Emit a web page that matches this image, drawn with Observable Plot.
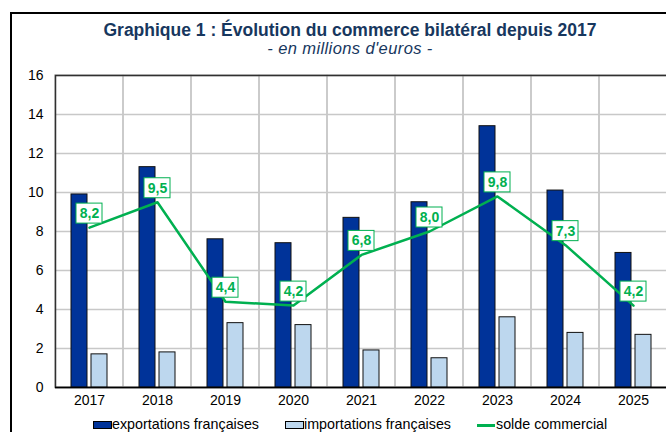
<!DOCTYPE html>
<html>
<head>
<meta charset="utf-8">
<script src="https://cdn.jsdelivr.net/npm/d3@7"></script>
<script src="https://cdn.jsdelivr.net/npm/@observablehq/plot@0.6"></script>
<style>
  html, body { margin: 0; padding: 0; background: #fff; }
  #wrap { position: relative; width: 666px; height: 432px; overflow: hidden; font-family: "Liberation Sans", Arial, sans-serif; }
  #border { position: absolute; left: 10px; top: 12px; width: 700px; height: 500px; border-left: 2px solid #000; border-top: 2px solid #000; box-sizing: border-box; }
  #title { position: absolute; left: 0; width: 700px; top: 22px; line-height: 1; text-align: center; font-weight: bold; font-size: 17.5px; color: #17375E; }
  #subtitle { position: absolute; left: 0; width: 700px; top: 40px; line-height: 1; text-align: center; font-style: italic; font-size: 16.5px; letter-spacing: 0.4px; color: #17375E; }
  #chart { position: absolute; left: 0; top: 60px; width: 680px; }
  #chart svg { max-width: none !important; }
  .leg { position: absolute; top: 416px; font-size: 14.3px; color: #000; white-space: nowrap; }
  .sw { position: absolute; top: 421px; width: 17px; height: 6px; border: 1px solid #000; }
  .ln { position: absolute; top: 424px; width: 18px; height: 2.5px; background: #00B050; }
</style>
</head>
<body>
<div id="wrap">
  <div id="border"></div>
  <div id="title">Graphique 1 : Évolution du commerce bilatéral depuis 2017</div>
  <div id="subtitle">- en millions d'euros -</div>
  <div id="chart"></div>
  <div class="sw" style="left:93px;background:#003399"></div>
  <div class="leg" style="left:112px">exportations françaises</div>
  <div class="sw" style="left:285px;background:#BDD7EE"></div>
  <div class="leg" style="left:304px">importations françaises</div>
  <div class="ln" style="left:477px"></div>
  <div class="leg" style="left:496px">solde commercial</div>
</div>
<script>
const years = ["2017", "2018", "2019", "2020", "2021", "2022", "2023", "2024", "2025"];
const exportations = [9.9, 11.3, 7.6, 7.4, 8.7, 9.5, 13.4, 10.1, 6.9];
const importations = [1.7, 1.8, 3.3, 3.2, 1.9, 1.5, 3.6, 2.8, 2.7];
const solde = [8.2, 9.5, 4.4, 4.2, 6.8, 8.0, 9.8, 7.3, 4.2];
const yTicks = [0, 2, 4, 6, 8, 10, 12, 14, 16];

const expData = years.map((y, i) => ({year: y, value: exportations[i]}));
const impData = years.map((y, i) => ({year: y, value: importations[i]}));
const solData = years.map((y, i) => ({year: y, value: solde[i], label: solde[i].toFixed(1).replace(".", ",")}));

const green = "#00B050";

const chart = Plot.plot({
  width: 680,
  height: 357,
  marginLeft: 55,
  marginRight: 13,
  marginTop: 15,
  marginBottom: 30,
  style: {fontFamily: "'Liberation Sans', Arial, sans-serif", fontSize: "14px", color: "#000", background: "transparent", maxWidth: "none"},
  x: {domain: years, padding: 0, label: null},
  y: {domain: [0, 16], label: null},
  marks: [
    Plot.gridY(yTicks, {stroke: "#c8c8c8", strokeOpacity: 1, strokeWidth: 1.5}),
    Plot.barY(years, {x: d => d, y1: 0, y2: 16, fill: "none", stroke: "#c8c8c8", strokeWidth: 1.5}),
    Plot.frame({stroke: "#303030", strokeWidth: 1.5}),
    Plot.barY(expData, {x: "year", y: "value", fill: "#003399", stroke: "#111", strokeWidth: 1, insetLeft: 16, insetRight: 36}),
    Plot.barY(impData, {x: "year", y: "value", fill: "#BDD7EE", stroke: "#111", strokeWidth: 1, insetLeft: 36, insetRight: 16}),
    Plot.ruleY([0], {stroke: "#000", strokeWidth: 1.5}),
    Plot.line(solData, {x: "year", y: "value", stroke: green, strokeWidth: 2.5}),
    Plot.barY(solData, {x: "year", y1: "value", y2: "value", insetTop: -24, insetBottom: 4, insetLeft: 21, insetRight: 21, fill: "#fff", stroke: green, strokeWidth: 1}),
    Plot.text(solData, {x: "year", y: "value", text: "label", dy: -14, fill: green, fontWeight: "bold", fontSize: 14}),
    Plot.axisY({ticks: yTicks, tickSize: 0, tickPadding: 12, fontSize: 14}),
    Plot.axisX({tickSize: 0, tickPadding: 8, fontSize: 14})
  ]
});
document.getElementById("chart").appendChild(chart);
</script>
</body>
</html>
